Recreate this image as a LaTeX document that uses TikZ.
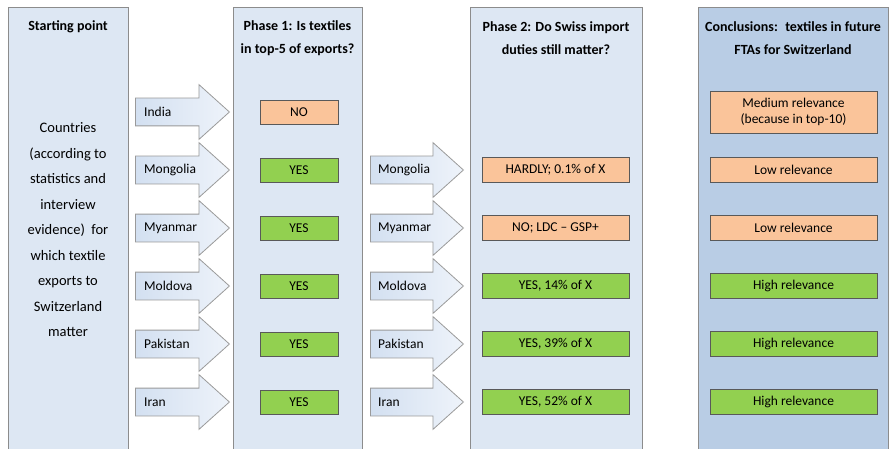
\documentclass[tikz,border=0pt]{standalone}
\usepackage{fontspec}
\setmainfont{Carlito}
\usetikzlibrary{shapes, shapes.arrows, positioning, calc}
\definecolor{colfill}{HTML}{DDE7F3}
\definecolor{concfill}{HTML}{B9CDE5}
\definecolor{colline}{HTML}{8C8C8C}
\definecolor{arrowfill}{HTML}{D3E0F1}
\definecolor{arrowlight}{HTML}{EEF3FA}
\definecolor{arrowline}{HTML}{9A9A9A}
\definecolor{boxorange}{HTML}{FAC49A}
\definecolor{boxgreen}{HTML}{92D050}
\definecolor{boxline}{HTML}{595959}
\tikzset{
    phasecol/.style={draw=colline, fill=colfill, line width=1pt, rectangle, anchor=north west, minimum height=460pt, inner sep=0pt},
    header/.style={font=\bfseries\fontsize{14}{23}\selectfont, align=center, inner sep=0pt},
    countryarrow/.style={single arrow, draw=arrowline, left color=arrowfill, right color=arrowlight, line width=0.8pt, single arrow head extend=13.5pt, single arrow tip angle=84, inner xsep=0pt, inner ysep=13.5pt, anchor=tail},
    country/.style={font=\fontsize{13.5}{16}\selectfont, anchor=west, inner sep=0pt},
    answer/.style={draw=boxline, line width=0.8pt, rectangle, minimum height=25pt, inner sep=0pt, font=\fontsize{13.5}{16}\selectfont, align=center},
    ansno/.style={answer, fill=boxorange},
    ansyes/.style={answer, fill=boxgreen}
}
\begin{document}
\begin{tikzpicture}[x=1pt, y=-1pt]
    \useasboundingbox (0,0) rectangle (890,449);
    % columns
    \node[phasecol, minimum width=120pt] (start) at (8,7) {};
    \node[phasecol, minimum width=129pt] (phaseone) at (233,7) {};
    \node[phasecol, minimum width=172pt] (phasetwo) at (470,7) {};
    \node[phasecol, minimum width=190pt, fill=concfill] (concl) at (698,7) {};
    % headers
    \node[header] (starthead) at (68,27) {Starting point};
    \node[header] (onehead) at (297.5,38.5) {Phase 1: Is textiles\\in top-5 of exports?};
    \node[header] (twohead) at (556,38.5) {Phase 2: Do Swiss import\\duties still matter?};
    \node[header] (conchead) at (793,38.5) {Conclusions:~ textiles in future\\FTAs for Switzerland};
    \node[font=\fontsize{14.5}{25.5}\selectfont, align=center, inner sep=0pt] (startbody) at (68,230)
        {Countries\\(according to\\statistics and\\interview\\evidence)~~for\\which textile\\exports to\\Switzerland\\matter};
    % country arrows
    \foreach \name [count=\i] in {India,Mongolia,Myanmar,Moldova,Pakistan,Iran}{
        \pgfmathsetmacro{\y}{112+58*(\i-1)}
        \node[countryarrow, minimum height=94pt] (arrowone\i) at (135,\y) {};
        \node[country] (nameone\i) at (144,\y) {\name};
    }
    \foreach \name [count=\i from 2] in {Mongolia,Myanmar,Moldova,Pakistan,Iran}{
        \pgfmathsetmacro{\y}{112+58*(\i-1)}
        \node[countryarrow, minimum height=93pt] (arrowtwo\i) at (370,\y) {};
        \node[country] (nametwo\i) at (378,\y) {\name};
    }
    % phase 1 answers
    \node[ansno, minimum width=78pt, minimum height=24pt] (one1) at (299,112) {NO};
    \node[ansyes, minimum width=78pt, minimum height=24pt] (one2) at (299,170) {YES};
    \node[ansyes, minimum width=78pt, minimum height=24pt] (one3) at (299,228) {YES};
    \node[ansyes, minimum width=78pt, minimum height=24pt] (one4) at (299,286) {YES};
    \node[ansyes, minimum width=78pt, minimum height=24pt] (one5) at (299,344) {YES};
    \node[ansyes, minimum width=78pt, minimum height=24pt] (one6) at (299,402) {YES};
    % phase 2 answers
    \node[ansno, minimum width=147pt] (two2) at (555.5,170) {HARDLY; 0.1\% of X};
    \node[ansno, minimum width=147pt] (two3) at (555.5,228) {NO; LDC -- GSP+};
    \node[ansyes, minimum width=147pt] (two4) at (555.5,286) {YES, 14\% of X};
    \node[ansyes, minimum width=147pt] (two5) at (555.5,344) {YES, 39\% of X};
    \node[ansyes, minimum width=147pt] (two6) at (555.5,402) {YES, 52\% of X};
    % conclusions
    \node[ansno, minimum width=167pt, minimum height=42pt] (conc1) at (793.5,112) {Medium relevance\\(because in top-10)};
    \node[ansno, minimum width=167pt] (conc2) at (793.5,170) {Low relevance};
    \node[ansno, minimum width=167pt] (conc3) at (793.5,228) {Low relevance};
    \node[ansyes, minimum width=167pt] (conc4) at (793.5,286) {High relevance};
    \node[ansyes, minimum width=167pt] (conc5) at (793.5,344) {High relevance};
    \node[ansyes, minimum width=167pt] (conc6) at (793.5,402) {High relevance};
\end{tikzpicture}
\end{document}
